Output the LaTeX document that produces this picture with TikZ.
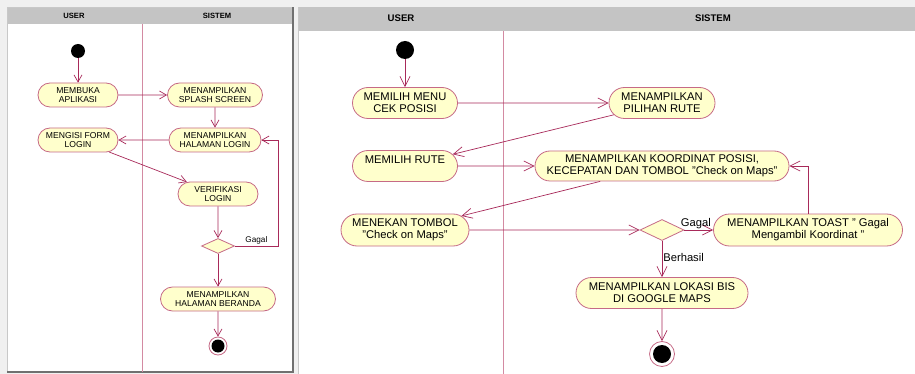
\documentclass[tikz,border=0pt]{standalone}
\usepackage{fontspec}
\setmainfont{Liberation Sans}
\usetikzlibrary{arrows.meta, shapes.misc, shapes.geometric}

\definecolor{bggray}{HTML}{F0F0F0}
\definecolor{headgray}{HTML}{C4C4C4}
\definecolor{framegray}{HTML}{707070}
\definecolor{edgegray}{HTML}{C8C8C8}
\definecolor{lanepink}{HTML}{D38AA2}
\definecolor{boxline}{HTML}{C66A86}
\definecolor{boxfill}{HTML}{FFFFCC}
\definecolor{arrowred}{HTML}{A82A5A}

\begin{document}
\begin{tikzpicture}[x= 1pt, y= -1pt,
	box/.style= {rounded rectangle, draw= boxline, fill= boxfill, line width= 0.8pt, inner sep= 0pt, align= center},
	boxS/.style= {box, font= \fontsize{8.6}{9.3}\selectfont, minimum height= 24pt},
	boxL/.style= {box, font= \fontsize{11.2}{12.2}\selectfont, minimum height= 31pt},
	decision/.style= {diamond, draw= boxline, fill= boxfill, line width= 0.8pt, inner sep= 0pt},
	start/.style= {circle, fill= black, inner sep= 0pt},
	finish/.style= {circle, draw= boxline, fill= white, line width= 0.8pt, inner sep= 0pt},
	arr/.style= {draw= arrowred, line width= 0.7pt, -{Straight Barb[length= 7pt, width= 8pt]}},
	arrL/.style= {arr, -{Straight Barb[length= 10pt, width= 10pt]}},
	head/.style= {font= \bfseries\fontsize{7.6}{9}\selectfont},
	headL/.style= {font= \bfseries\fontsize{9.6}{11}\selectfont},
	lbl/.style= {font= \fontsize{8.2}{9}\selectfont, inner sep= 1pt},
	lblL/.style= {font= \fontsize{11.2}{12}\selectfont, inner sep= 1pt}]
	\useasboundingbox (0, 0) rectangle (915, 374);
	\fill[bggray](0, 0) rectangle (915, 374); %背景

	% 左の図
	\fill[white](7, 7) rectangle (293, 372); %左パネル
	\fill[headgray](7, 7) rectangle (293, 24); %見出し
	\draw[edgegray](7, 372)-- (7, 7)-- (293, 7);
	\draw[framegray, line width= 1.2pt](7, 372)-- (293, 372)-- (293, 7); %影
	\draw[lanepink, line width= 0.6pt](142, 24)-- (142, 372); %レーン境界
	\node[head] (userA) at (74, 16) {USER};
	\node[head] (sistemA) at (217, 16) {SISTEM};

	\node[start, minimum size= 14pt] (sA) at (78, 51) {}; %開始
	\node[boxS, minimum width= 80pt] (membuka) at (78, 95) {MEMBUKA\\APLIKASI};
	\node[boxS, minimum width= 95pt] (splash) at (215, 95) {MENAMPILKAN\\SPLASH SCREEN};
	\node[boxS, minimum width= 92pt] (login) at (215, 140) {MENAMPILKAN\\HALAMAN LOGIN};
	\node[boxS, minimum width= 80pt] (mengisi) at (78, 140) {MENGISI FORM\\LOGIN};
	\node[boxS, minimum width= 80pt] (verif) at (218, 194) {VERIFIKASI\\LOGIN};
	\node[decision, minimum width= 33pt, minimum height= 15pt] (dA) at (218, 246) {}; %分岐
	\node[boxS, minimum width= 115pt] (beranda) at (218, 299) {MENAMPILKAN\\HALAMAN BERANDA};
	\node[finish, minimum size= 18pt] (eA) at (218, 346) {}; %終了
	\fill(eA) circle [radius= 6.5];

	\draw[arr](sA)-- (membuka);
	\draw[arr](membuka)-- (splash);
	\draw[arr](splash)-- (login);
	\draw[arr](login)-- (mengisi);
	\draw[arr](mengisi)-- (verif);
	\draw[arr](verif)-- (dA);
	\draw[arr](dA.east)-- node[lbl, above] (gagalA) {Gagal} ++(43, 0) |- (login.east); %ループ
	\draw[arr](dA)-- (beranda);
	\draw[arr](beranda)-- (eA);

	% 右の図
	\fill[white](298, 7) rectangle (915, 374); %右パネル
	\fill[headgray](298, 7) rectangle (915, 31); %見出し
	\draw[edgegray, line width= 0.8pt](298, 374)-- (298, 7);
	\draw[lanepink, line width= 1pt](503, 31)-- (503, 374); %レーン境界
	\node[headL] (userB) at (401, 18) {USER};
	\node[headL] (sistemB) at (713, 18) {SISTEM};

	\node[start, minimum size= 18pt] (sB) at (405, 50) {}; %開始
	\node[boxL, minimum width= 105pt] (menu) at (405, 103) {MEMILIH MENU\\CEK POSISI};
	\node[boxL, minimum width= 106pt] (pilihan) at (662, 103) {MENAMPILKAN\\PILIHAN RUTE};
	\node[boxL, minimum width= 105pt] (rute) at (405, 166) {MEMILIH RUTE\\\mbox{}};
	\node[boxL, minimum width= 254pt, minimum height= 30pt] (koordinat) at (662, 166) {MENAMPILKAN KOORDINAT POSISI,\\KECEPATAN DAN TOMBOL "Check on Maps"};
	\node[boxL, minimum width= 128pt, minimum height= 32pt] (menekan) at (405, 230) {MENEKAN TOMBOL\\"Check on Maps"};
	\node[decision, minimum width= 44pt, minimum height= 21pt] (dB) at (662, 230) {}; %分岐
	\node[boxL, minimum width= 189pt, minimum height= 32pt] (toast) at (808, 230) {MENAMPILKAN TOAST " Gagal\\Mengambil Koordinat "};
	\node[boxL, minimum width= 172pt] (lokasi) at (662, 293) {MENAMPILKAN LOKASI BIS\\DI GOOGLE MAPS};
	\node[finish, minimum size= 25pt] (eB) at (662, 354) {}; %終了
	\fill(eB) circle [radius= 9];

	\draw[arrL](sB)-- (menu);
	\draw[arrL](menu)-- (pilihan);
	\draw[arrL](pilihan)-- (rute);
	\draw[arrL](rute)-- (koordinat);
	\draw[arrL](koordinat)-- (menekan);
	\draw[arrL](menekan)-- (dB);
	\draw[arrL](dB)-- node[lblL, above, pos= 0.4] (gagalB) {Gagal} (toast);
	\draw[arrL](toast.north)|- (koordinat.east); %戻り
	\draw[arrL](dB)-- node[lblL, right, pos= 0.45] (berhasil) {Berhasil} (lokasi);
	\draw[arrL](lokasi)-- (eB);
\end{tikzpicture}
\end{document}
